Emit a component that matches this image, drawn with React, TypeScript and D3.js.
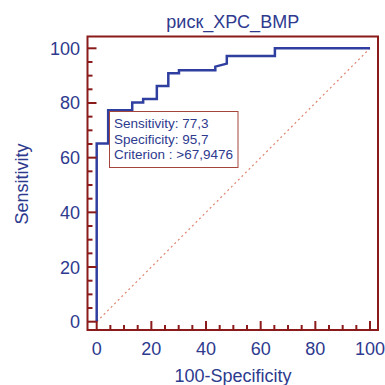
import * as d3 from 'd3'

// ROC curve points (100-Specificity, Sensitivity)
const rocX = [0, 0, 4.2, 4.2, 13, 13, 17, 17, 22, 22, 26.2, 26.2, 30.1, 30.1, 43.4, 43.4, 47.6, 47.6, 65.2, 65.2, 100]
const rocY = [0, 65.2, 65.2, 77.3, 77.3, 80.2, 80.2, 81.5, 81.5, 86.2, 86.2, 90.9, 90.9, 92, 92, 93.3, 94.4, 97.2, 97.2, 100, 100]
const majorTicks = [0, 20, 40, 60, 80, 100]
const minorTicks = d3.range(0, 101, 5)
const infoLines = ['Sensitivity: 77,3', 'Specificity: 95,7', 'Criterion : >67,9476']
const title = 'риск_ХРС_ВМР'

const navy = '#2E3A8E'
const frameRed = '#8B1A1A'
const font = '"Liberation Sans", Arial, sans-serif'

export default function App() {
  const x = d3.scaleLinear().domain([0, 100]).range([96.7, 370])
  const y = d3.scaleLinear().domain([0, 100]).range([321.7, 48.3])
  const frame = { left: 87.5, top: 36.5, right: 378, bottom: 330 }

  const line = d3.line<number>()
    .x((_, i) => x(rocX[i]))
    .y(d => y(d))

  return (
    <svg width={385} height={385} style={{ position: 'absolute', left: 0, top: 0, fontFamily: font }}>
      <rect width={385} height={385} fill="#fff" />
      <text x={(frame.left + frame.right) / 2} y={28} textAnchor="middle" fontSize={18} fill={navy}>{title}</text>

      {/* diagonal reference */}
      <line x1={x(0)} y1={y(0)} x2={x(100)} y2={y(100)} stroke="#E0846F" strokeWidth={1.2} strokeDasharray="2,3" />

      {/* roc curve */}
      <path d={line(rocY) ?? ''} fill="none" stroke="#2F3FA0" strokeWidth={2.5} />

      {/* ticks */}
      {minorTicks.map(t => {
        const len = majorTicks.includes(t) ? 9 : 5
        return (
          <g key={t}>
            <line x1={frame.left} x2={frame.left + len} y1={y(t)} y2={y(t)} stroke={frameRed} strokeWidth={2} />
            <line x1={x(t)} x2={x(t)} y1={frame.bottom} y2={frame.bottom - len} stroke={frameRed} strokeWidth={2} />
          </g>
        )
      })}
      {majorTicks.map(t => (
        <g key={'l' + t}>
          <text x={80} y={y(t) + 6.5} textAnchor="end" fontSize={18} fill={navy}>{t}</text>
          <text x={x(t)} y={355} textAnchor="middle" fontSize={18} fill={navy}>{t}</text>
        </g>
      ))}

      <rect x={frame.left} y={frame.top} width={frame.right - frame.left} height={frame.bottom - frame.top}
        fill="none" stroke={frameRed} strokeWidth={2} />

      {/* info box */}
      <rect x={109.5} y={111.5} width={128.5} height={56} fill="#fff" stroke="#A5463C" strokeWidth={1} />
      {infoLines.map((s, i) => (
        <text key={s} x={114} y={128 + i * 15.5} fontSize={13.5} fill={navy}>{s}</text>
      ))}

      <text x={233} y={382} textAnchor="middle" fontSize={18} fill={navy}>100-Specificity</text>
      <text transform="translate(27.5,184) rotate(-90)" textAnchor="middle" fontSize={18} fill={navy}>Sensitivity</text>
    </svg>
  )
}
